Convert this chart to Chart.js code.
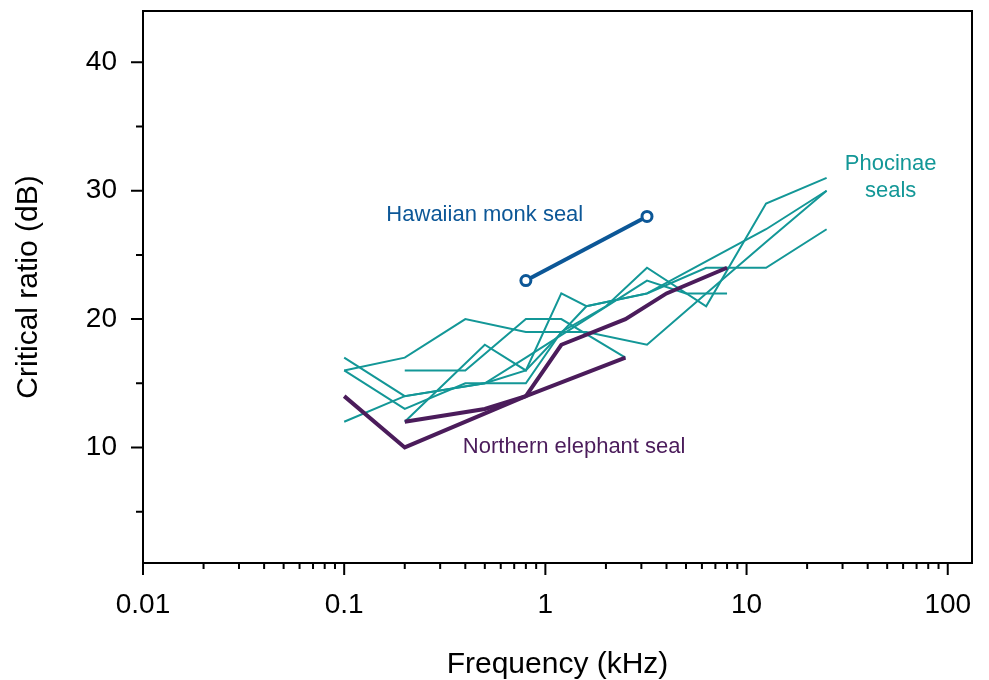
<!DOCTYPE html>
<html>
<head>
<meta charset="utf-8">
<script src="https://cdn.jsdelivr.net/npm/chart.js@4"></script>
<style>
  html, body { margin: 0; padding: 0; background: #fff; }
  #wrap { width: 989px; height: 680px; }
</style>
</head>
<body>
<div id="wrap"><canvas id="crChart"></canvas></div>
<script>
// frequency (kHz) / critical ratio (dB)
const monkFreq = [0.8, 3.2];
const monkCR = [23, 28];

const elephantFreqA = [0.1, 0.2, 0.8, 1.2, 2.5, 4, 8];
const elephantCRA = [14, 10, 14, 18, 20, 22, 24];
const elephantFreqB = [0.2, 0.5, 0.8, 2.5];
const elephantCRB = [12, 13, 14, 17];

const phoca1Freq = [0.1, 0.2, 0.4, 0.8, 1.6, 3.2, 6.3, 12.5, 25];
const phoca1CR = [16, 17, 20, 19, 19, 18, 22, 26, 30];
const phoca2Freq = [0.1, 0.2, 0.5, 0.8, 1.6, 3.2, 6.3, 12.5, 25];
const phoca2CR = [17, 14, 15, 16, 21, 22, 24.5, 27, 30];
const phoca3Freq = [0.1, 0.2, 0.4, 0.8, 1.2, 2, 3.2, 6.3, 12.5, 25];
const phoca3CR = [16, 13, 15, 15, 19, 21, 24, 21, 29, 31];
const phoca4Freq = [0.1, 0.2, 0.5, 0.8, 1.6, 3.2, 5, 8];
const phoca4CR = [12, 14, 15, 17, 20, 23, 22, 22];
const phoca5Freq = [0.2, 0.5, 0.8, 1.2, 1.6, 3.2, 6.3, 12.5, 25];
const phoca5CR = [12, 18, 16, 22, 21, 22, 24, 24, 27];
const phoca6Freq = [0.2, 0.4, 0.8, 1.2, 2.5];
const phoca6CR = [16, 16, 20, 20, 17];

const xTickValues = [];
[0.01, 0.1, 1, 10, 100].forEach(function (d) {
    for (let k = 1; k <= 9; k++) {
        if (d * k <= 100) xTickValues.push(+(d * k).toPrecision(3));
    }
});
const yTickValues = [5, 10, 15, 20, 25, 30, 35, 40];

const TEAL = '#139797';
const BLUE = '#0c5797';
const PURPLE = '#4b1c5b';

function pts(fs, vs) {
    return fs.map(function (f, i) { return { x: f, y: vs[i] }; });
}

function teal(fs, vs) {
    return { data: pts(fs, vs), borderColor: TEAL, borderWidth: 2, pointRadius: 0, order: 3 };
}

const labels = [
    { text: 'Hawaiian monk seal', x: 0.5, y: 28.1, color: BLUE },
    { text: 'Northern elephant seal', x: 1.39, y: 10.05, color: PURPLE },
    { text: 'Phocinae', x: 52, y: 32.1, color: TEAL },
    { text: 'seals', x: 52, y: 30.0, color: TEAL }
];

const framePlugin = {
    id: 'frame',
    afterDraw(chart) {
        const ctx = chart.ctx;
        const a = chart.chartArea;
        const xs = chart.scales.x, ys = chart.scales.y;
        ctx.save();
        ctx.strokeStyle = '#000';
        ctx.lineWidth = 2;
        ctx.strokeRect(a.left, a.top, a.right - a.left, a.bottom - a.top);
        ctx.beginPath();
        xs.ticks.forEach(function (t) {
            const px = xs.getPixelForValue(t.value);
            const major = Math.abs(Math.log10(t.value) - Math.round(Math.log10(t.value))) < 1e-6;
            ctx.moveTo(px, a.bottom);
            ctx.lineTo(px, a.bottom + (major ? 12 : 6));
        });
        ys.ticks.forEach(function (t) {
            const py = ys.getPixelForValue(t.value);
            ctx.moveTo(a.left, py);
            ctx.lineTo(a.left - (t.value % 10 === 0 ? 12 : 7), py);
        });
        ctx.stroke();
        ctx.font = '22px "Liberation Sans", Arial, sans-serif';
        ctx.textAlign = 'center';
        ctx.textBaseline = 'middle';
        labels.forEach(function (l) {
            ctx.fillStyle = l.color;
            ctx.fillText(l.text, xs.getPixelForValue(l.x), ys.getPixelForValue(l.y));
        });
        ctx.restore();
    }
};

new Chart(document.getElementById('crChart'), {
    type: 'line',
    data: {
        datasets: [
            { data: pts(monkFreq, monkCR), borderColor: BLUE, borderWidth: 4, pointRadius: 5,
              pointBorderWidth: 3, pointBackgroundColor: '#fff', pointBorderColor: BLUE, order: 1 },
            { data: pts(elephantFreqA, elephantCRA), borderColor: PURPLE, borderWidth: 4, pointRadius: 0, order: 2 },
            { data: pts(elephantFreqB, elephantCRB), borderColor: PURPLE, borderWidth: 4, pointRadius: 0, order: 2 },
            teal(phoca1Freq, phoca1CR),
            teal(phoca2Freq, phoca2CR),
            teal(phoca3Freq, phoca3CR),
            teal(phoca4Freq, phoca4CR),
            teal(phoca5Freq, phoca5CR),
            teal(phoca6Freq, phoca6CR)
        ]
    },
    options: {
        responsive: true,
        maintainAspectRatio: false,
        animation: false,
        layout: { padding: { top: 11, right: 17, left: 0, bottom: 0 } },
        elements: { line: { tension: 0, borderJoinStyle: 'miter', borderCapStyle: 'butt' } },
        plugins: { legend: { display: false }, tooltip: { enabled: false } },
        scales: {
            x: {
                type: 'logarithmic',
                min: 0.01,
                max: 132,
                afterBuildTicks: function (scale) {
                    scale.ticks = xTickValues.map(function (v) { return { value: v }; });
                },
                afterFit: function (scale) {
                    scale.height = 117;
                    scale.paddingLeft = 0;
                    scale.paddingRight = 0;
                },
                grid: { display: false, drawTicks: false },
                border: { display: false },
                ticks: {
                    autoSkip: false,
                    maxRotation: 0,
                    padding: 25,
                    color: '#000',
                    font: { family: '"Liberation Sans", Arial, sans-serif', size: 28 },
                    callback: function (v) {
                        const l = Math.log10(v);
                        if (Math.abs(l - Math.round(l)) > 1e-6) return '';
                        return String(+v.toPrecision(3));
                    }
                },
                title: {
                    display: true,
                    text: 'Frequency (kHz)',
                    color: '#000',
                    padding: { top: 0, bottom: -3 },
                    font: { family: '"Liberation Sans", Arial, sans-serif', size: 30 }
                }
            },
            y: {
                min: 1,
                max: 44,
                afterBuildTicks: function (scale) {
                    scale.ticks = yTickValues.map(function (v) { return { value: v }; });
                },
                afterFit: function (scale) {
                    scale.width = 143;
                    scale.paddingTop = 0;
                    scale.paddingBottom = 0;
                },
                grid: { display: false, drawTicks: false },
                border: { display: false },
                ticks: {
                    padding: 26,
                    color: '#000',
                    font: { family: '"Liberation Sans", Arial, sans-serif', size: 28 },
                    callback: function (v) { return v % 10 === 0 ? String(v) : ''; }
                },
                title: {
                    display: true,
                    text: 'Critical ratio (dB)',
                    color: '#000',
                    padding: { top: 11, bottom: 0 },
                    font: { family: '"Liberation Sans", Arial, sans-serif', size: 30 }
                }
            }
        }
    },
    plugins: [framePlugin]
});
</script>
</body>
</html>
